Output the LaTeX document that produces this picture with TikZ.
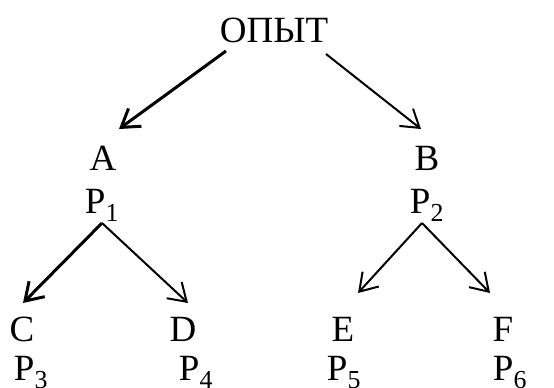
\documentclass[tikz,border=0pt]{standalone}
\usepackage{fontspec}
\setmainfont{Liberation Serif}
\usetikzlibrary{arrows.meta}

\tikzset{
  lbl/.style={inner sep=0pt, anchor=base, font=\fontsize{37}{40}\selectfont},
  arr/.style={-{Straight Barb[length=17pt,width=22pt]}, line width=2pt},
  arrb/.style={arr, line width=3pt}
}

\begin{document}
\begin{tikzpicture}[x=1pt, y=-1pt]
    \useasboundingbox (0,0) rectangle (554,388);

    % Opyt
    \node[lbl] (opyt) at (274,42) {ОПЫТ};

    % first level
    \node[lbl] (a) at (103,170) {A};
    \node[lbl] (pa) at (102,213) {P\textsubscript{1}};
    \node[lbl] (b) at (427,170) {B};
    \node[lbl] (pb) at (427,213) {P\textsubscript{2}};

    % second level
    \node[lbl] (c) at (22,341) {C};
    \node[lbl] (pc) at (31,380) {P\textsubscript{3}};
    \node[lbl] (d) at (183,341) {D};
    \node[lbl] (pd) at (196,380) {P\textsubscript{4}};
    \node[lbl] (e) at (343,341) {E};
    \node[lbl] (pe) at (344,380) {P\textsubscript{5}};
    \node[lbl] (f) at (503,341) {F};
    \node[lbl] (pf) at (510,380) {P\textsubscript{6}};

    % arrows
    \draw[arrb] ([shift={(-48,9)}]opyt.base) -- ([shift={(16,-41)}]a.base);
    \draw[arr] ([shift={(52,12)}]opyt.base) -- ([shift={(-6,-41)}]b.base);
    \draw[arrb] ([shift={(0,10)}]pa.base) -- ([shift={(1,-38)}]c.base);
    \draw[arr] ([shift={(0,10)}]pa.base) -- ([shift={(5,-38)}]d.base);
    \draw[arr] ([shift={(-5,10)}]pb.base) -- ([shift={(15,-48)}]e.base);
    \draw[arr] ([shift={(-5,10)}]pb.base) -- ([shift={(-13,-48)}]f.base);
\end{tikzpicture}
\end{document}
